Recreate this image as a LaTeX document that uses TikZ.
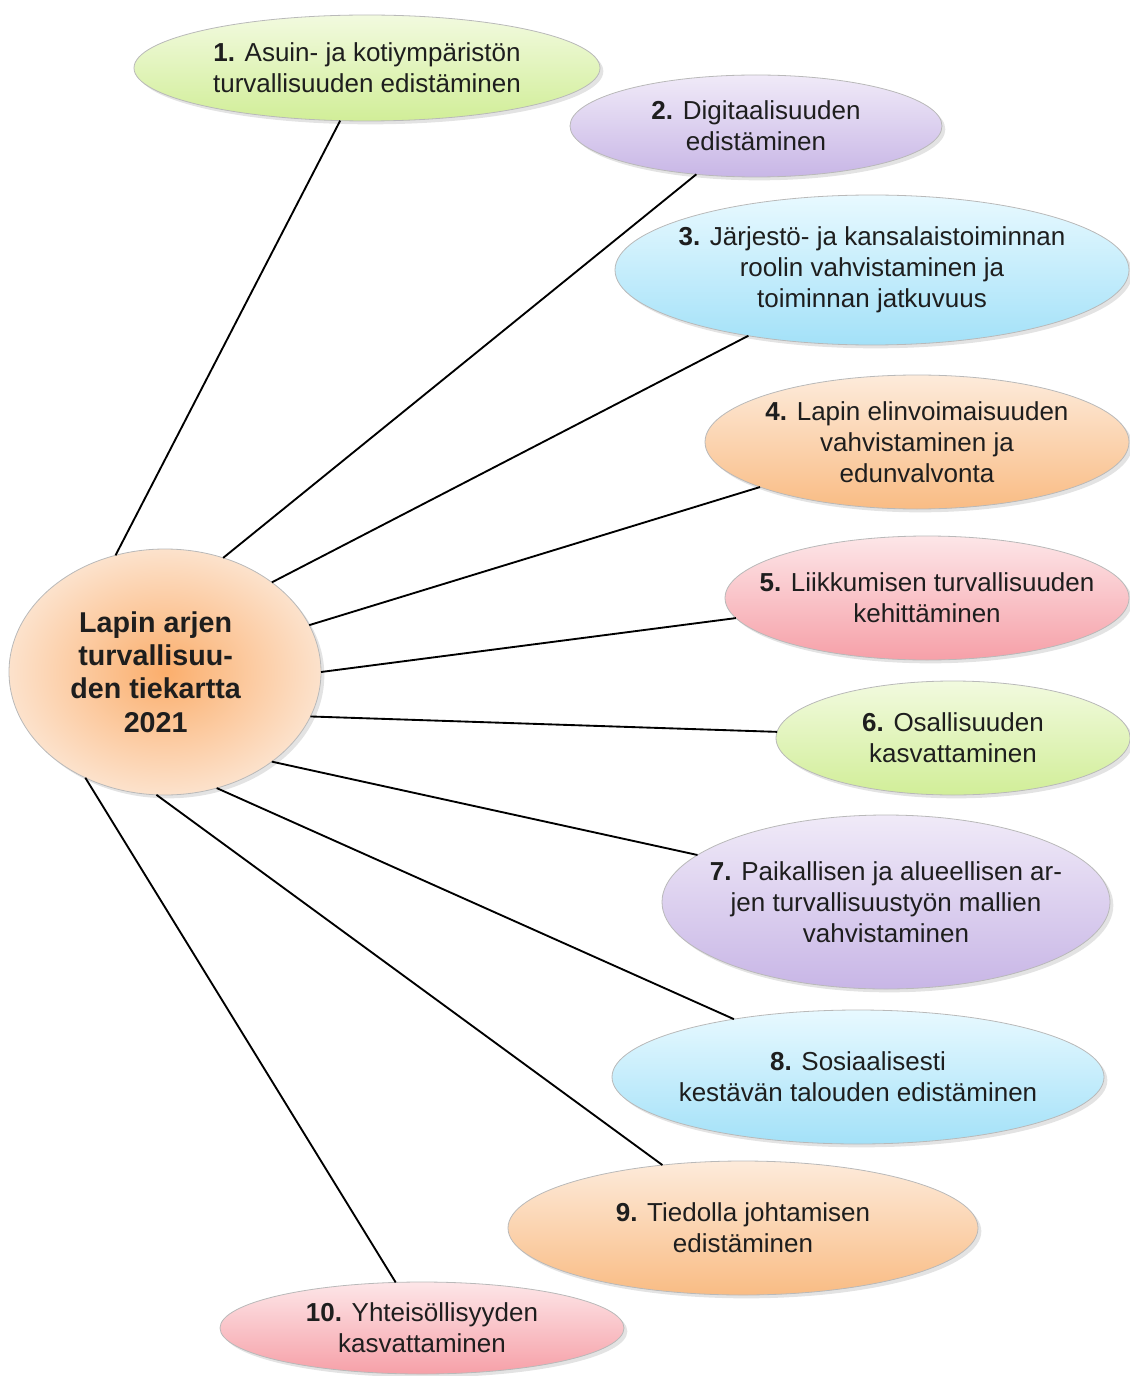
\documentclass[tikz,border=0pt]{standalone}
\usepackage{fontspec}
\setmainfont{Liberation Sans}
\usepackage{tikz}
\usetikzlibrary{shapes.geometric, shadows, positioning}
\definecolor{inkgray}{RGB}{30, 30, 30}
\definecolor{greentop}{HTML}{F2FADF}
\definecolor{greenbot}{HTML}{D1EE98}
\definecolor{purpletop}{HTML}{F0EAF8}
\definecolor{purplebot}{HTML}{C8B6E6}
\definecolor{bluetop}{HTML}{E8F9FF}
\definecolor{bluebot}{HTML}{A3E1F8}
\definecolor{orangetop}{HTML}{FDEBDB}
\definecolor{orangebot}{HTML}{F9BC84}
\definecolor{pinktop}{HTML}{FDE6E8}
\definecolor{pinkbot}{HTML}{F6A0A8}
\definecolor{hubinner}{HTML}{FBAE6C}
\definecolor{hubouter}{HTML}{FCE2CC}

\begin{document}
\begin{tikzpicture}[
    x=0.75pt, y=-0.75pt,
    bubble/.style={ellipse, draw=gray!55, line width=0.6pt, inner sep=0pt, outer sep=0pt,
        drop shadow={opacity=0.22, shadow xshift=2.5pt, shadow yshift=-2.5pt}},
    greengoal/.style={bubble, top color=greentop, bottom color=greenbot},
    purplegoal/.style={bubble, top color=purpletop, bottom color=purplebot},
    bluegoal/.style={bubble, top color=bluetop, bottom color=bluebot},
    orangegoal/.style={bubble, top color=orangetop, bottom color=orangebot},
    pinkgoal/.style={bubble, top color=pinktop, bottom color=pinkbot},
    goaltext/.style={font=\fontsize{19.5}{23.25}\selectfont, text=inkgray, align=center},
    hubtext/.style={font=\fontsize{21.5}{25}\selectfont\bfseries, text=inkgray, align=center},
    link/.style={line width=1.4pt, black}
]
    \useasboundingbox (0,0) rectangle (1130,1376);

    % Centre
    \node[bubble, inner color=hubinner, outer color=hubouter, minimum width=234pt, minimum height=184.5pt,
        label={[hubtext, xshift=-7pt]center:{Lapin arjen\\turvallisuu-\\den tiekartta\\2021}}] (hub) at (165,672) {};

    % Goals - top to bottom
    \node[greengoal, minimum width=349.5pt, minimum height=79.5pt,
        label={[goaltext]center:{\textbf{1.} Asuin- ja kotiympäristön\\turvallisuuden edistäminen}}] (asuin) at (367,68) {};
    \node[purplegoal, minimum width=279pt, minimum height=76.5pt,
        label={[goaltext]center:{\textbf{2.} Digitaalisuuden\\edistäminen}}] (digi) at (756,126) {};
    \node[bluegoal, minimum width=385.5pt, minimum height=112.5pt,
        label={[goaltext]center:{\textbf{3.} Järjestö- ja kansalaistoiminnan\\roolin vahvistaminen ja\\toiminnan jatkuvuus}}] (jarjesto) at (872,270) {};
    \node[orangegoal, minimum width=318pt, minimum height=100.5pt,
        label={[goaltext]center:{\textbf{4.} Lapin elinvoimaisuuden\\vahvistaminen ja\\edunvalvonta}}] (elinvoima) at (917,442) {};
    \node[pinkgoal, minimum width=303pt, minimum height=93pt,
        label={[goaltext]center:{\textbf{5.} Liikkumisen turvallisuuden\\kehittäminen}}] (liikkuminen) at (927,598) {};
    \node[greengoal, minimum width=265.5pt, minimum height=85.5pt,
        label={[goaltext]center:{\textbf{6.} Osallisuuden\\kasvattaminen}}] (osallisuus) at (953,738) {};
    \node[purplegoal, minimum width=336pt, minimum height=130.5pt,
        label={[goaltext]center:{\textbf{7.} Paikallisen ja alueellisen ar-\\jen turvallisuustyön mallien\\vahvistaminen}}] (paikallinen) at (886,902) {};
    \node[bluegoal, minimum width=369pt, minimum height=100.5pt,
        label={[goaltext]center:{\textbf{8.} Sosiaalisesti\\kestävän talouden edistäminen}}] (talous) at (858,1077) {};
    \node[orangegoal, minimum width=352.5pt, minimum height=100.5pt,
        label={[goaltext]center:{\textbf{9.} Tiedolla johtamisen\\edistäminen}}] (tieto) at (743,1228) {};
    \node[pinkgoal, minimum width=303pt, minimum height=69pt,
        label={[goaltext]center:{\textbf{10.} Yhteisöllisyyden\\kasvattaminen}}] (yhteiso) at (422,1328) {};

    % Links
    \draw[link] (hub.113) -- (asuin.243);
    \draw[link] (hub.63) -- (digi.219);
    \draw[link] (hub.40) -- (jarjesto.208);
    \draw[link] (hub.18.6) -- (elinvoima.196.3);
    \draw[link] (hub.0) -- (liikkuminen.186.3);
    \draw[link] (hub.-17.2) -- (osallisuus.178);
    \draw[link] (hub.-40) -- (paikallinen.166.2);
    \draw[link] (hub.-66) -- (talous.155.7);
    \draw[link] (hub.-94.6) -- (tieto.142.9);
    \draw[link] (hub.-127.7) -- (yhteiso.120.2);
\end{tikzpicture}
\end{document}
